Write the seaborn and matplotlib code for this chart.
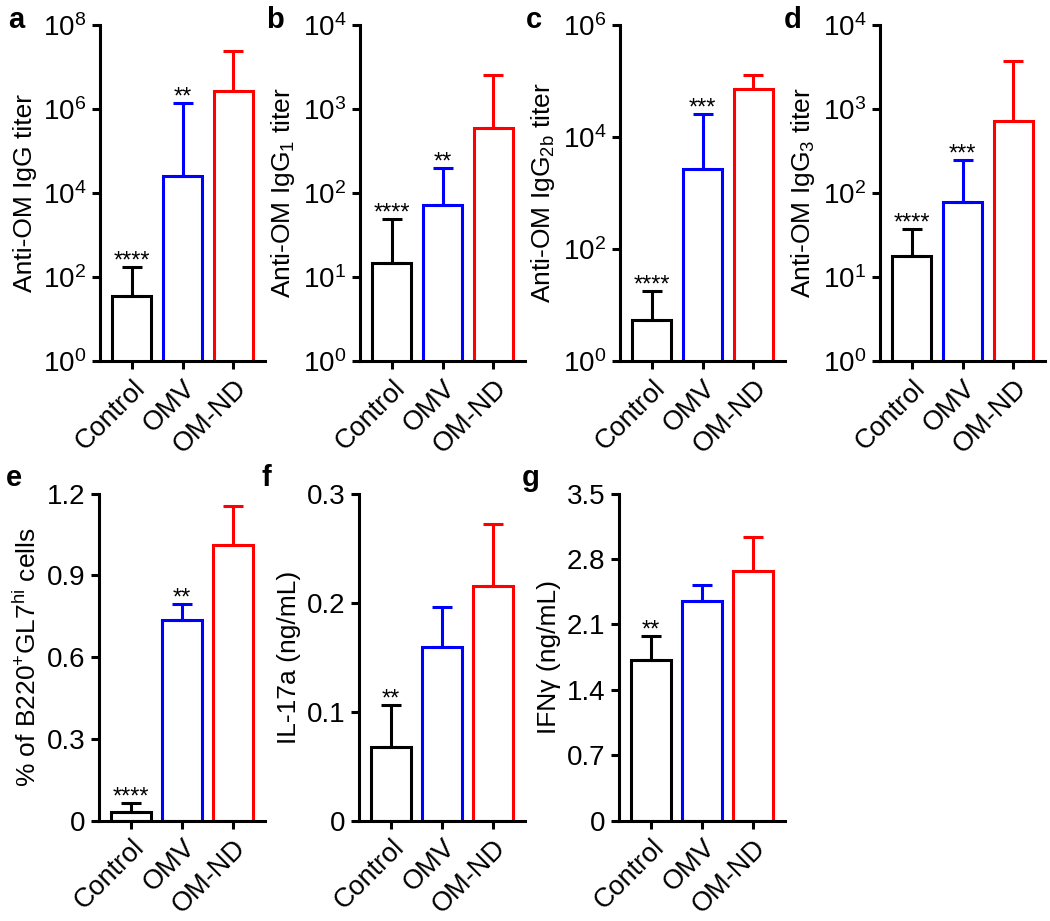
import numpy as np
import pandas as pd
import seaborn as sns
import matplotlib.pyplot as plt
from matplotlib.ticker import NullLocator

# groups and colours shared by every panel
groups = ['Control', 'OMV', 'OM-ND']
colors = ['black', '#0000ff', '#ff0000']

# titer panels (log scale), bar height and top of error bar
igg_mean = [36, 2.6e4, 2.7e6]
igg_err = [174, 1.4e6, 2.4e7]
igg1_mean = [14.8, 71, 600]
igg1_err = [49, 198, 2500]
igg2b_mean = [5.4, 2700, 7.2e4]
igg2b_err = [17.8, 2.6e4, 1.28e5]
igg3_mean = [18, 79, 713]
igg3_err = [37, 246, 3700]

# linear panels
gc_mean = [0.031, 0.737, 1.013]
gc_err = [0.064, 0.794, 1.154]
il17_mean = [0.068, 0.159, 0.215]
il17_err = [0.106, 0.196, 0.272]
ifng_mean = [1.72, 2.35, 2.67]
ifng_err = [1.98, 2.52, 3.04]

# significance stars per bar
stars_a = ['****', '**', '']
stars_b = ['****', '**', '']
stars_c = ['****', '***', '']
stars_d = ['****', '***', '']
stars_e = ['****', '**', '']
stars_f = ['**', '', '']
stars_g = ['**', '', '']

sns.set_style('ticks')
plt.rcParams['font.family'] = ['Liberation Sans', 'DejaVu Sans']
plt.rcParams['mathtext.fontset'] = 'custom'
plt.rcParams['mathtext.rm'] = 'Liberation Sans'
plt.rcParams['mathtext.it'] = 'Liberation Sans'
plt.rcParams['axes.linewidth'] = 2.2
# plain black text and axes (seaborn default is dark grey)
for key in ['text.color', 'axes.labelcolor', 'xtick.color', 'ytick.color',
            'axes.edgecolor']:
    plt.rcParams[key] = 'black'

fig = plt.figure(figsize=(10.5, 9.21), dpi=100)

lw = 2.2


def draw_panel(rect, means, tops, stars, ylabel, log=False, ylim=None,
               yticks=None, yticklabels=None):
    ax = fig.add_axes(rect)
    df = pd.DataFrame({'group': groups, 'value': means})
    sns.barplot(data=df, x='group', y='value', hue='group', palette=colors,
                fill=False, linewidth=lw, width=0.77, errorbar=None,
                legend=False, ax=ax)
    if log:
        ax.set_yscale('log')
    # upper error bars only
    for i in range(len(groups)):
        ax.errorbar(i, means[i], yerr=[[0], [tops[i] - means[i]]], fmt='none',
                    ecolor=colors[i], elinewidth=lw, capsize=7.5,
                    capthick=lw, zorder=3)
        if stars[i]:
            ax.annotate(stars[i], (i, tops[i]), xytext=(0, -4),
                        textcoords='offset points', ha='center', va='bottom',
                        fontsize=17)
    ax.set_xlim(-0.63, 2.63)
    ax.set_ylim(*ylim)
    ax.set_yticks(yticks)
    ax.set_yticklabels(yticklabels, fontsize=20)
    ax.yaxis.set_minor_locator(NullLocator())
    ax.set_xticks(range(len(groups)))
    ax.set_xticklabels(groups, rotation=45, ha='right', rotation_mode='anchor',
                       fontsize=19.5)
    ax.tick_params(axis='both', direction='out', length=6, width=lw, pad=4)
    ax.set_xlabel('')
    ax.set_ylabel(ylabel, fontsize=19, labelpad=4)
    sns.despine(ax=ax)
    return ax


# top row: log titers
row1 = [0.608, 0.365]
draw_panel([100 / 1050, row1[0], 165 / 1050, row1[1]], igg_mean, igg_err,
           stars_a, 'Anti-OM IgG titer', log=True, ylim=(1, 1e8),
           yticks=[1e0, 1e2, 1e4, 1e6, 1e8],
           yticklabels=['$10^{%d}$' % p for p in [0, 2, 4, 6, 8]])
draw_panel([360 / 1050, row1[0], 165 / 1050, row1[1]], igg1_mean, igg1_err,
           stars_b, 'Anti-OM IgG$_1$ titer', log=True, ylim=(1, 1e4),
           yticks=[1e0, 1e1, 1e2, 1e3, 1e4],
           yticklabels=['$10^{%d}$' % p for p in [0, 1, 2, 3, 4]])
draw_panel([620 / 1050, row1[0], 165 / 1050, row1[1]], igg2b_mean, igg2b_err,
           stars_c, 'Anti-OM IgG$_{2b}$ titer', log=True, ylim=(1, 1e6),
           yticks=[1e0, 1e2, 1e4, 1e6],
           yticklabels=['$10^{%d}$' % p for p in [0, 2, 4, 6]])
draw_panel([880 / 1050, row1[0], 165 / 1050, row1[1]], igg3_mean, igg3_err,
           stars_d, 'Anti-OM IgG$_3$ titer', log=True, ylim=(1, 1e4),
           yticks=[1e0, 1e1, 1e2, 1e3, 1e4],
           yticklabels=['$10^{%d}$' % p for p in [0, 1, 2, 3, 4]])

# bottom row: linear
row2 = [0.109, 0.355]
draw_panel([99 / 1050, row2[0], 166 / 1050, row2[1]], gc_mean, gc_err,
           stars_e, '% of B220$^{+}$GL7$^{\\mathrm{hi}}$ cells', ylim=(0, 1.2),
           yticks=[0, 0.3, 0.6, 0.9, 1.2],
           yticklabels=['0', '0.3', '0.6', '0.9', '1.2'])
draw_panel([359 / 1050, row2[0], 166 / 1050, row2[1]], il17_mean, il17_err,
           stars_f, 'IL-17a (ng/mL)', ylim=(0, 0.3),
           yticks=[0, 0.1, 0.2, 0.3],
           yticklabels=['0', '0.1', '0.2', '0.3'])
draw_panel([619 / 1050, row2[0], 166 / 1050, row2[1]], ifng_mean, ifng_err,
           stars_g, 'IFNγ (ng/mL)', ylim=(0, 3.5),
           yticks=[0, 0.7, 1.4, 2.1, 2.8, 3.5],
           yticklabels=['0', '0.7', '1.4', '2.1', '2.8', '3.5'])

# panel letters
letters = ['a', 'b', 'c', 'd', 'e', 'f', 'g']
letter_x = [8, 266, 526, 784, 6, 262, 522]
letter_y = [20, 20, 20, 20, 478, 478, 478]
for L, lx, ly in zip(letters, letter_x, letter_y):
    fig.text(lx / 1050, 1 - ly / 921, L, fontsize=21, fontweight='bold',
             va='center', ha='left')

fig.savefig('out.png', dpi=100)
